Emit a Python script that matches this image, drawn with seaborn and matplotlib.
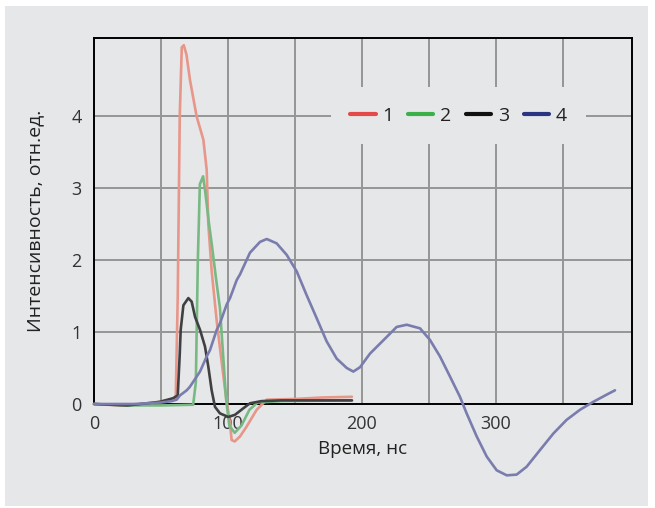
import numpy as np
import pandas as pd
import matplotlib
matplotlib.use("Agg")
import matplotlib.pyplot as plt
from matplotlib.lines import Line2D
from matplotlib.patches import Rectangle
import seaborn as sns

# ---- data ----
x1 = [0, 20, 40, 55, 61, 62.5, 64, 65.5, 67, 69, 71.6, 76.6, 81.6, 84.1, 85.3, 87.8, 91.6, 94.5, 97.8, 99,
      101.5, 102.7, 105, 109, 114, 121.4, 128.9, 150, 170, 192.5]
y1 = [0, -0.02, 0.0, 0.05, 0.09, 1.5, 4.0, 4.95, 4.98, 4.85, 4.5, 3.99, 3.67, 3.25, 2.5, 1.85, 1.15, 0.7, 0.2, 0.05,
      -0.27, -0.5, -0.52, -0.45, -0.31, -0.08, 0.06, 0.07, 0.09, 0.1]

x2 = [0, 25, 50, 74, 76, 77.5, 79, 81.4, 83, 85.5, 88, 91, 94, 96.5, 98.5, 101, 105, 110, 116, 122, 140, 192.5]
y2 = [0, -0.02, -0.02, -0.01, 0.3, 2.0, 3.05, 3.16, 2.95, 2.55, 2.2, 1.75, 1.33, 0.64, 0.08, -0.3, -0.4, -0.3, -0.08, 0.02, 0.04, 0.05]

x3 = [0, 25, 49, 59, 62.5, 64, 64.7, 66.7, 70.4, 72.9, 75.4, 79.1, 82.8, 85.3, 87.8, 90.3, 94, 100.2, 105.2,
      111.4, 116.4, 125, 140, 192.5]
y3 = [0, -0.02, 0.03, 0.08, 0.12, 0.7, 1.03, 1.37, 1.47, 1.42, 1.21, 1.03, 0.80, 0.52, 0.19, -0.04, -0.13, -0.18, -0.15,
      -0.06, 0.01, 0.04, 0.05, 0.05]

x4 = [0, 30, 50, 58, 61.7, 64.2, 69.2, 71.6, 76.6, 79.1, 84.1, 86.6, 91.6, 94, 99, 101.5, 106.5, 109, 116.4, 123.9,
      128.9, 136.3, 143.8, 151.3, 158.7, 166.2, 173.6, 181.1, 188.6, 193.5, 198.5, 206, 218.4, 225.9, 233.4, 243.3,
      250.7, 258.2, 265.7, 273.1, 278.1, 285.6, 293.1, 300.5, 308, 315.4, 322.9, 332.8, 342.8, 352.7, 362.7, 372.6,
      382.6, 388.8]
y4 = [0, 0.0, 0.02, 0.04, 0.06, 0.12, 0.19, 0.24, 0.38, 0.45, 0.66, 0.75, 1.03, 1.12, 1.38, 1.47, 1.72, 1.80, 2.1, 2.25,
      2.29, 2.23, 2.07, 1.84, 1.51, 1.19, 0.87, 0.63, 0.50, 0.45, 0.51, 0.70, 0.93, 1.07, 1.10, 1.05,
      0.89, 0.66, 0.38, 0.10, -0.13, -0.45, -0.73, -0.92, -0.99, -0.98, -0.87, -0.64, -0.41, -0.22, -0.08, 0.03,
      0.13, 0.19]

series_names = ["1", "2", "3", "4"]
line_colors = ["#e8968a", "#78b983", "#404042", "#7a7cae"]
legend_colors = ["#e54a4a", "#3ab04a", "#111111", "#2b3480"]

x_ticks = [0, 100, 200, 300]
y_ticks = [0, 1, 2, 3, 4]
x_label = "Время, нс"
y_label = "Интенсивность, отн.ед."

frames = []
for name, xs, ys in zip(series_names, [x1, x2, x3, x4], [y1, y2, y3, y4]):
    frames.append(pd.DataFrame({"t": xs, "v": ys, "s": name}))
df = pd.concat(frames, ignore_index=True)

sns.set_theme(style="white")
plt.rcParams["font.family"] = ["Open Sans", "DejaVu Sans"]

bg = "#e6e7e8"
fig = plt.figure(figsize=(6.55, 5.08), dpi=100, facecolor="white")
fig.patches.append(Rectangle((5 / 655, 1 - 506 / 508), 643 / 655, 500 / 508,
                             transform=fig.transFigure, facecolor=bg, edgecolor="none", zorder=-10))
ax = fig.add_axes([94 / 655, 1 - 404 / 508, 538 / 655, 366 / 508])
ax.set_facecolor(bg)

sns.lineplot(data=df, x="t", y="v", hue="s", palette=dict(zip(series_names, line_colors)),
             sort=False, estimator=None, linewidth=1.9, legend=False, ax=ax)
for ln in ax.lines:
    ln.set_clip_on(False)
    ln.set_zorder(3)
    ln.set_solid_joinstyle("round")
    ln.set_solid_capstyle("round")

ax.set_xlim(0, 401.5)
ax.set_ylim(0, 5.08)
ax.set_xticks(x_ticks)
ax.set_xticks([50, 150, 250, 350], minor=True)
ax.set_yticks(y_ticks)
ax.set_xticklabels([str(v) for v in x_ticks])
ax.set_yticklabels([str(v) for v in y_ticks])
ax.grid(True, which="both", color="#959595", linewidth=1.4)
ax.set_axisbelow(True)
ax.tick_params(axis="both", which="both", direction="in", length=5, width=1, color="black",
               labelsize=13, labelcolor="#333333")
ax.tick_params(axis="x", which="both", pad=8)
ax.tick_params(axis="y", pad=9)
for sp in ax.spines.values():
    sp.set_visible(True)
    sp.set_color("black")
    sp.set_linewidth(1.4)

ax.set_xlabel(x_label, fontsize=13.5, color="#222222", labelpad=5)
ax.set_ylabel(y_label, fontsize=14, color="#222222", labelpad=19)

handles = [Line2D([0], [0], color=c, lw=3) for c in legend_colors]
leg = ax.legend(handles, series_names, loc="center", bbox_to_anchor=(272, 4.0),
                bbox_transform=ax.transData, ncol=4, frameon=True, fontsize=14,
                handlelength=1.3, handletextpad=0.32, columnspacing=0.78, borderpad=1.0)
leg.get_frame().set_facecolor(bg)
leg.get_frame().set_edgecolor("none")
leg.get_frame().set_alpha(1)
for t in leg.get_texts():
    t.set_color("#222222")

fig.savefig("out.png", dpi=100, facecolor="white")
